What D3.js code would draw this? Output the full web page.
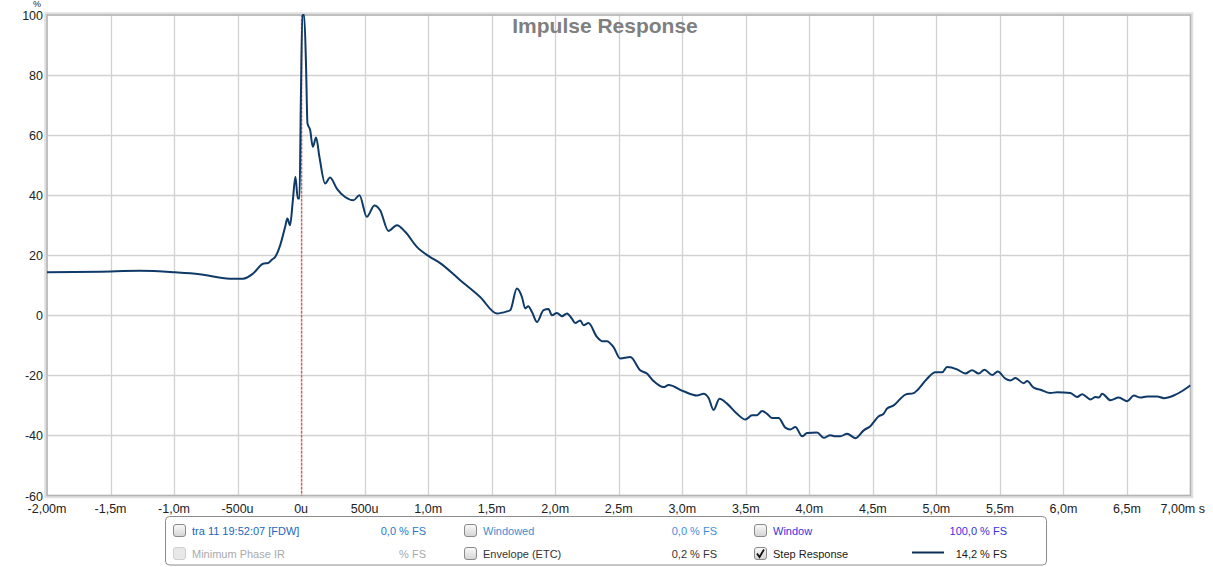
<!DOCTYPE html>
<html>
<head>
<meta charset="utf-8">
<script src="https://cdn.jsdelivr.net/npm/d3@7"></script>
<style>
  body { margin: 0; background: #fff; }
  svg { display: block; font-family: "Liberation Sans", Arial, sans-serif; }
</style>
</head>
<body>
<svg id="chart" width="1213" height="567"></svg>
<script>
// time in ms, value in %
const times = [
  -2.00, -1.58, -1.27, -0.99, -0.80, -0.56, -0.457, -0.378, -0.299, -0.26,
  -0.228, -0.205, -0.165, -0.126, -0.108, -0.087, -0.065, -0.045, -0.026, -0.013,
  -0.002, 0.010, 0.024, 0.039, 0.05, 0.071, 0.092, 0.118, 0.144, 0.189,
  0.228, 0.281, 0.346, 0.412, 0.459, 0.517, 0.577, 0.622, 0.687, 0.754,
  0.819, 0.911, 1.016, 1.094, 1.252, 1.409, 1.541, 1.62, 1.646, 1.698,
  1.738, 1.764, 1.787, 1.817, 1.856, 1.908, 1.947, 1.974, 2.013, 2.053,
  2.092, 2.131, 2.157, 2.197, 2.223, 2.262, 2.328, 2.368, 2.407, 2.459,
  2.512, 2.591, 2.669, 2.722, 2.774, 2.853, 2.892, 3.01, 3.116, 3.168,
  3.207, 3.246, 3.293, 3.352, 3.431, 3.496, 3.549, 3.588, 3.628, 3.667,
  3.706, 3.758, 3.811, 3.85, 3.89, 3.943, 3.982, 4.061, 4.113, 4.165,
  4.205, 4.244, 4.297, 4.362, 4.428, 4.48, 4.546, 4.585, 4.612, 4.664,
  4.717, 4.756, 4.821, 4.848, 4.927, 4.992, 5.045, 5.084, 5.163, 5.228,
  5.281, 5.333, 5.378, 5.439, 5.483, 5.543, 5.583, 5.622, 5.687, 5.714,
  5.766, 5.819, 5.898, 5.95, 6.055, 6.108, 6.147, 6.213, 6.252, 6.278,
  6.305, 6.37, 6.435, 6.502, 6.554, 6.606, 6.659, 6.738, 6.79, 6.868,
  6.935, 6.987, 7.00
];
const stepValues = [
  14.3, 14.5, 14.8, 14.3, 13.7, 12.2, 12.2, 13.9, 17.2, 17.4,
  18.6, 19.4, 23.3, 29.4, 32.2, 30.0, 38.3, 46.1, 38.9, 38.9,
  71.7, 100, 100, 82.8, 63.9, 61.7, 56.1, 59.2, 52.8, 43.9,
  45.9, 42.2, 39.4, 38.3, 40.0, 32.8, 36.6, 35.0, 28.1, 30.0,
  27.8, 22.8, 19.4, 17.4, 11.7, 6.1, 0.6, 1.3, 1.7, 8.9,
  6.1, 2.3, 3.0, 1.1, -2.2, 1.7, 2.1, 0.0, 0.8, -0.3,
  0.6, -1.1, -2.6, -1.7, -3.3, -2.6, -7.2, -8.6, -8.6, -10.6,
  -14.4, -13.9, -18.3, -19.4, -21.9, -23.9, -23.2, -25.3, -26.7, -26.1,
  -27.5, -31.5, -27.8, -29.4, -32.8, -34.7, -33.3, -33.3, -31.9, -32.8,
  -34.2, -34.2, -37.4, -38.0, -37.2, -40.3, -39.2, -39.0, -40.8, -39.9,
  -40.3, -40.3, -39.4, -40.9, -38.3, -36.9, -33.6, -32.8, -31.0, -30.0,
  -27.8, -26.4, -25.9, -25.0, -21.1, -19.0, -19.0, -17.2, -18.0, -19.4,
  -18.3, -19.4, -18.1, -19.9, -18.7, -21.1, -21.7, -20.9, -22.6, -21.9,
  -24.1, -24.8, -25.9, -25.6, -25.9, -27.2, -26.3, -28.0, -27.2, -27.4,
  -26.1, -28.3, -27.4, -28.6, -26.7, -27.4, -27.0, -27.0, -27.6, -26.7,
  -25.2, -23.7, -23.3
];

const xTicks = [-2, -1.5, -1, -0.5, 0, 0.5, 1, 1.5, 2, 2.5, 3, 3.5, 4, 4.5, 5, 5.5, 6, 6.5, 7];
const xTickLabels = ["-2,00m", "-1,5m", "-1,0m", "-500u", "0u", "500u", "1,0m", "1,5m", "2,0m",
  "2,5m", "3,0m", "3,5m", "4,0m", "4,5m", "5,0m", "5,5m", "6,0m", "6,5m", "7,00m s"];
const yTicks = [100, 80, 60, 40, 20, 0, -20, -40, -60];

// legend columns, two rows each
const legendCols = [
  [{ label: "tra 11 19:52:07 [FDW]", value: "0,0 % FS", color: "#2266bb", valueColor: "#2a78c8", box: "off" },
   { label: "Minimum Phase IR", value: "% FS", color: "#aaaaaa", box: "disabled" }],
  [{ label: "Windowed", value: "0,0 % FS", color: "#3d8fd8", box: "off" },
   { label: "Envelope (ETC)", value: "0,2 % FS", color: "#333333", box: "off" }],
  [{ label: "Window", value: "100,0 % FS", color: "#3333e0", box: "off" },
   { label: "Step Response", value: "14,2 % FS", color: "#1a1a1a", box: "on", line: true }]
];

const svg = d3.select("#chart");
const margin = { left: 47, right: 1190.5, top: 15, bottom: 495.5 };

const x = d3.scaleLinear().domain([-2, 7]).range([margin.left, margin.right]);
const y = d3.scaleLinear().domain([-60, 100]).range([margin.bottom, margin.top]);

const lineColor = "#0f3a68";

// gridlines
const grid = svg.append("g").attr("class", "grid");
grid.selectAll("line.vx")
  .data(xTicks.slice(1, -1))
  .enter().append("line")
    .attr("x1", d => Math.round(x(d)) + 0.5).attr("x2", d => Math.round(x(d)) + 0.5)
    .attr("y1", margin.top).attr("y2", margin.bottom)
    .attr("stroke", "#d2d2d2").attr("stroke-width", 1.3);
grid.selectAll("line.hy")
  .data(yTicks.slice(1, -1))
  .enter().append("line")
    .attr("x1", margin.left).attr("x2", margin.right)
    .attr("y1", d => Math.round(y(d)) + 0.5).attr("y2", d => Math.round(y(d)) + 0.5)
    .attr("stroke", "#d2d2d2").attr("stroke-width", 1.3);

// frame
svg.append("rect")
  .attr("x", margin.left - 1).attr("y", margin.top - 1)
  .attr("width", margin.right - margin.left + 2).attr("height", margin.bottom - margin.top + 2)
  .attr("fill", "none").attr("stroke", "#e0e0e0").attr("stroke-width", 3.5);
svg.append("rect")
  .attr("x", margin.left).attr("y", margin.top)
  .attr("width", margin.right - margin.left).attr("height", margin.bottom - margin.top)
  .attr("fill", "none").attr("stroke", "#b4b4b4").attr("stroke-width", 1.5);

// title
svg.append("text")
  .attr("x", 605).attr("y", 33)
  .attr("text-anchor", "middle")
  .attr("font-size", 21).attr("font-weight", "bold")
  .attr("fill", "#7f7f7f")
  .text("Impulse Response");

// red zero marker
svg.append("line")
  .attr("x1", x(0) + 0.5).attr("x2", x(0) + 0.5)
  .attr("y1", margin.top).attr("y2", margin.bottom)
  .attr("stroke", "#d85a5a").attr("stroke-width", 1.4)
  .attr("stroke-dasharray", "2.5,1.5");

// curve
svg.append("clipPath").attr("id", "plotClip")
  .append("rect")
    .attr("x", margin.left).attr("y", margin.top - 1)
    .attr("width", margin.right - margin.left).attr("height", margin.bottom - margin.top + 1);

const pts = times.map((t, i) => [t, stepValues[i]]);
const line = d3.line()
  .x(d => x(d[0])).y(d => y(d[1]))
  .curve(d3.curveMonotoneX);

svg.append("path")
  .datum(pts)
  .attr("clip-path", "url(#plotClip)")
  .attr("fill", "none")
  .attr("stroke", lineColor)
  .attr("stroke-width", 2)
  .attr("stroke-linejoin", "round")
  .attr("d", line);

// y axis labels
const yAxis = svg.append("g");
yAxis.selectAll("text")
  .data(yTicks)
  .enter().append("text")
    .attr("x", 43).attr("y", d => y(d) + 5)
    .attr("text-anchor", "end")
    .attr("font-size", 12.5).attr("fill", "#222")
    .text(d => d);
yAxis.append("text")
  .attr("x", 37).attr("y", 7)
  .attr("text-anchor", "middle")
  .attr("font-size", 9).attr("fill", "#222")
  .text("%");

// x axis labels (last one carries the unit and is right aligned)
const xAxis = svg.append("g");
xAxis.selectAll("text")
  .data(xTicks)
  .enter().append("text")
    .attr("x", (d, i) => i === xTicks.length - 1 ? 1205 : x(d)).attr("y", 513)
    .attr("text-anchor", (d, i) => i === xTicks.length - 1 ? "end" : "middle")
    .attr("font-size", 12.5).attr("fill", "#222")
    .text((d, i) => xTickLabels[i]);

// legend
const legend = svg.append("g");
legend.append("rect")
  .attr("x", 165.5).attr("y", 516.5).attr("width", 881).attr("height", 48.5)
  .attr("rx", 4).attr("fill", "#fff").attr("stroke", "#8c8c8c");

const defs = svg.append("defs");
const grad = defs.append("linearGradient").attr("id", "boxGrad").attr("x1", 0).attr("y1", 0).attr("x2", 0).attr("y2", 1);
grad.append("stop").attr("offset", "0%").attr("stop-color", "#fafafa");
grad.append("stop").attr("offset", "100%").attr("stop-color", "#d4d4d4");

const colX = [173, 464, 754];
const valueRight = [426, 717, 1007];
const rowY = [524, 547];

legendCols.forEach((col, ci) => {
  col.forEach((item, ri) => {
    const g = legend.append("g");
    g.append("rect")
      .attr("x", colX[ci] + 0.5).attr("y", rowY[ri] + 0.5)
      .attr("width", 12).attr("height", 12).attr("rx", 2.5)
      .attr("fill", item.box === "disabled" ? "#e8e8e8" : "url(#boxGrad)")
      .attr("stroke", item.box === "disabled" ? "#cfcfcf" : "#8a8a8a");
    if (item.box === "on") {
      g.append("path")
        .attr("d", `M${colX[ci] + 3},${rowY[ri] + 6.5} L${colX[ci] + 5.5},${rowY[ri] + 10} L${colX[ci] + 10},${rowY[ri] + 2.5}`)
        .attr("fill", "none").attr("stroke", "#111").attr("stroke-width", 1.8);
    }
    g.append("text")
      .attr("x", colX[ci] + 19).attr("y", rowY[ri] + 10.5)
      .attr("font-size", 11).attr("fill", item.color)
      .text(item.label);
    g.append("text")
      .attr("x", valueRight[ci]).attr("y", rowY[ri] + 10.5)
      .attr("text-anchor", "end")
      .attr("font-size", 11).attr("fill", item.valueColor || item.color)
      .text(item.value);
    if (item.line) {
      g.append("line")
        .attr("x1", 912).attr("x2", 944)
        .attr("y1", rowY[ri] + 5.5).attr("y2", rowY[ri] + 5.5)
        .attr("stroke", "#0d2f55").attr("stroke-width", 2);
    }
  });
});
</script>
</body>
</html>
